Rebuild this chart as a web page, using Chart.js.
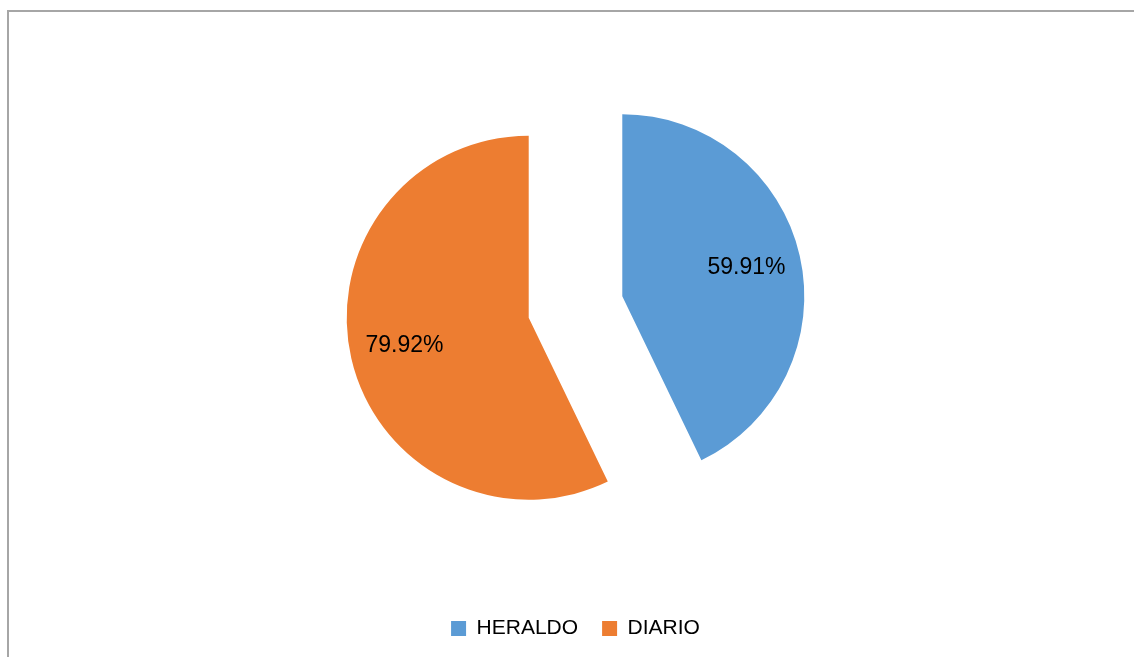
<!DOCTYPE html>
<html>
<head>
<meta charset="utf-8">
<script src="https://cdn.jsdelivr.net/npm/chart.js@4/dist/chart.umd.min.js"></script>
<style>
  html, body { margin: 0; padding: 0; background: #fff; overflow: hidden; }
  #frame { position: absolute; left: 7px; top: 10px; width: 1140px; height: 660px;
           border-top: 2px solid #a6a6a6; border-left: 2px solid #a6a6a6; }
  #c { position: absolute; left: 0; top: 0; }
</style>
</head>
<body>
<div id="frame"></div>
<canvas id="c" width="1134" height="657"></canvas>
<script>
// data
var labels = ["HERALDO", "DIARIO"]
var values = [59.91, 79.92]
var colors = ["#5B9BD5", "#ED7D31"]

var FONT = "'Liberation Sans', Arial, sans-serif"
var RADIUS = 182
var EXPLODE = 48 //pixels each slice is pulled out

//pull each slice out along its middle angle (the built-in offset also shrinks the angle)
var explode = {
  id: 'explode',
  beforeDatasetsDraw: function(chart) {
    var a = chart.chartArea
    var cx = (a.left + a.right) / 2, cy = (a.top + a.bottom) / 2
    chart.getDatasetMeta(0).data.forEach(function(arc) {
      var mid = (arc.startAngle + arc.endAngle) / 2
      arc.x = cx + Math.cos(mid) * EXPLODE
      arc.y = cy + Math.sin(mid) * EXPLODE
    })
  }
}

//draws the % labels inside each slice
var sliceLabels = {
  id: 'sliceLabels',
  afterDatasetsDraw: function(chart) {
    var ctx = chart.ctx
    var meta = chart.getDatasetMeta(0)
    ctx.save()
    ctx.font = "23px " + FONT
    ctx.fillStyle = "#000"
    ctx.textAlign = "center"
    ctx.textBaseline = "middle"
    meta.data.forEach(function(arc, i) {
      var mid = (arc.startAngle + arc.endAngle) / 2
      var d = RADIUS * 0.7
      ctx.fillText(values[i].toFixed(2) + "%", arc.x + Math.cos(mid) * d, arc.y + Math.sin(mid) * d)
    })
    ctx.restore()
  }
}

new Chart(document.getElementById('c'), {
  type: 'pie',
  data: {
    labels: labels,
    datasets: [{
      data: values,
      backgroundColor: colors,
      borderWidth: 0
    }]
  },
  options: {
    responsive: false,
    animation: false,
    radius: RADIUS,
    layout: { padding: { left: 17, right: 0, top: 20, bottom: 8 } },
    plugins: {
      tooltip: { enabled: false },
      legend: {
        position: 'bottom',
        labels: {
          boxWidth: 15,
          boxHeight: 15,
          padding: 24,
          color: '#000',
          font: { family: FONT, size: 21 }
        }
      }
    }
  },
  plugins: [explode, sliceLabels]
})
</script>
</body>
</html>
